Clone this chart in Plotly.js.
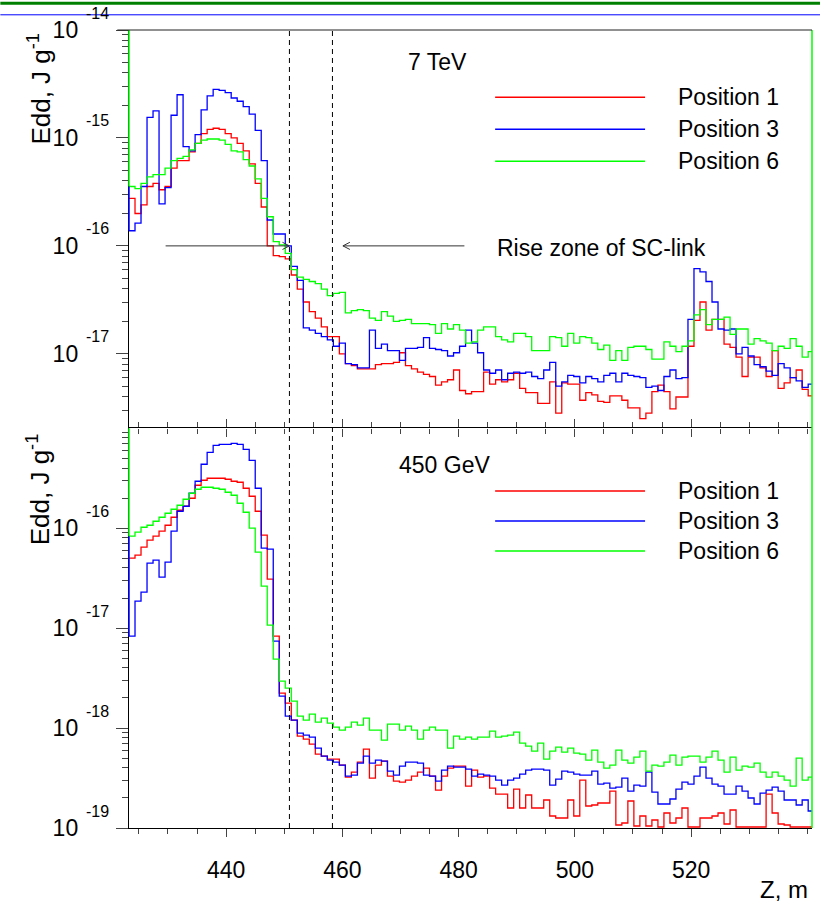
<!DOCTYPE html>
<html><head><meta charset="utf-8">
<script src="https://cdn.plot.ly/plotly-3.0.1.min.js"></script>
<style>html,body{margin:0;padding:0;background:#fff}</style>
</head><body><div id="chart" style="width:820px;height:918px"></div>
<script>
// ---- data: histogram bins along Z (m), values stored as log10(Edd / J g^-1) ----
const binStart = 423.3, binWidth = 1.034;
const top7TeV_pos1 = [
-15.56,-15.70,-15.62,-15.45,-15.42,-15.48,-15.45,-15.28,-15.21,-15.21,
-15.13,-15.05,-14.96,-14.92,-14.91,-14.92,-14.96,-15.00,-15.05,-15.12,
-15.24,-15.42,-15.64,-16.00,-16.09,-16.10,-16.12,-16.27,-16.40,-16.52,
-16.61,-16.67,-16.75,-16.84,-16.84,-17.00,-17.09,-17.11,-17.14,-17.14,
-17.14,-17.10,-17.09,-17.09,-17.08,-16.99,-17.11,-17.14,-17.17,-17.19,
-17.21,-17.29,-17.26,-17.24,-17.15,-17.34,-17.37,-17.35,-17.35,-17.17,
-17.28,-17.24,-17.26,-17.24,-17.18,-17.32,-17.36,-17.36,-17.46,-17.46,
-17.26,-17.55,-17.27,-17.28,-17.28,-17.43,-17.36,-17.38,-17.44,-17.45,
-17.39,-17.39,-17.43,-17.50,-17.50,-17.60,-17.55,-17.35,-17.29,-17.35,
-17.51,-17.40,-17.40,-16.93,-16.69,-16.52,-16.78,-16.68,-16.68,-16.91,
-16.94,-17.03,-17.21,-17.03,-17.03,-17.13,-17.21,-16.97,-17.32,-17.27,
-17.22,-17.15,-17.33,-17.39];
const top7TeV_pos3 = [
-15.86,-15.79,-15.45,-14.81,-14.75,-15.61,-15.46,-14.79,-14.60,-15.08,
-15.12,-14.97,-14.74,-14.61,-14.55,-14.56,-14.58,-14.63,-14.66,-14.71,
-14.78,-14.93,-15.21,-15.76,-15.89,-15.89,-16.00,-16.19,-16.32,-16.76,
-16.78,-16.81,-16.84,-16.87,-16.93,-16.90,-17.09,-17.10,-17.13,-17.13,
-16.78,-16.95,-16.91,-16.97,-16.97,-17.06,-16.95,-16.95,-16.94,-16.85,
-16.95,-16.96,-16.97,-17.02,-16.99,-16.93,-16.78,-16.90,-16.99,-17.15,
-17.18,-17.15,-17.24,-17.18,-17.17,-17.18,-17.17,-17.21,-17.23,-17.15,
-17.08,-17.30,-17.26,-17.20,-17.21,-17.27,-17.21,-17.23,-17.26,-17.20,
-17.18,-17.26,-17.18,-17.20,-17.21,-17.22,-17.31,-17.30,-17.34,-17.21,
-17.15,-17.23,-17.22,-16.68,-16.21,-16.24,-16.33,-16.52,-16.77,-16.78,
-16.77,-17.00,-16.94,-17.02,-17.10,-17.12,-17.16,-17.20,-17.09,-17.13,
-17.22,-17.25,-17.31,-17.28];
const top7TeV_pos6 = [
-15.45,-15.47,-15.42,-15.36,-15.34,-15.34,-15.28,-15.21,-15.19,-15.17,
-15.11,-15.05,-15.02,-15.01,-15.01,-15.02,-15.06,-15.12,-15.13,-15.20,
-15.26,-15.38,-15.56,-15.73,-15.96,-15.99,-16.07,-16.22,-16.29,-16.31,
-16.33,-16.35,-16.40,-16.46,-16.44,-16.43,-16.62,-16.60,-16.59,-16.60,
-16.67,-16.69,-16.61,-16.65,-16.70,-16.69,-16.68,-16.72,-16.72,-16.72,
-16.73,-16.81,-16.72,-16.77,-16.73,-16.78,-16.90,-16.89,-16.78,-16.75,
-16.75,-16.84,-16.87,-16.89,-16.81,-16.81,-16.84,-16.97,-16.97,-16.97,
-16.84,-16.85,-16.93,-16.81,-16.90,-16.84,-16.85,-16.90,-16.96,-16.92,
-17.06,-16.97,-17.06,-16.94,-16.93,-16.93,-16.96,-17.05,-17.05,-16.89,
-16.93,-16.98,-16.93,-16.88,-16.64,-16.59,-16.73,-16.68,-16.68,-16.66,
-16.82,-16.77,-16.77,-16.91,-16.86,-16.88,-16.90,-16.97,-16.93,-16.95,
-16.86,-16.93,-17.03,-16.98];
const bot450GeV_pos1 = [
-16.30,-16.27,-16.19,-16.12,-16.08,-16.03,-15.97,-15.89,-15.82,-15.78,
-15.70,-15.57,-15.52,-15.50,-15.50,-15.50,-15.51,-15.53,-15.54,-15.60,
-15.68,-15.83,-16.07,-16.51,-17.08,-17.65,-17.75,-17.92,-18.08,-18.11,
-18.16,-18.26,-18.28,-18.31,-18.31,-18.37,-18.49,-18.44,-18.34,-18.21,
-18.50,-18.37,-18.33,-18.48,-18.53,-18.54,-18.52,-18.48,-18.44,-18.40,
-18.48,-18.62,-18.48,-18.40,-18.38,-18.38,-18.58,-18.42,-18.49,-18.48,
-18.60,-18.66,-18.66,-18.80,-18.61,-18.80,-18.67,-18.80,-18.80,-18.72,
-18.88,-18.90,-18.90,-18.72,-18.88,-18.52,-18.78,-18.77,-18.75,-18.75,
-18.63,-18.97,-18.95,-18.73,-18.98,-18.88,-18.98,-18.92,-18.99,-18.85,
-18.95,-18.90,-18.80,-18.99,-18.99,-18.90,-18.90,-18.88,-18.85,-18.96,
-18.82,-18.99,-18.99,-18.99,-18.99,-18.99,-18.66,-18.85,-18.96,-18.97,
-18.99,-18.99,-18.99,-18.99];
const bot450GeV_pos3 = [
-17.08,-16.73,-16.64,-16.35,-16.32,-16.49,-16.34,-16.03,-15.83,-15.78,
-15.65,-15.53,-15.36,-15.24,-15.17,-15.16,-15.16,-15.15,-15.16,-15.21,
-15.32,-15.60,-16.20,-16.21,-17.13,-17.68,-17.88,-17.92,-18.05,-18.07,
-18.09,-18.20,-18.28,-18.32,-18.34,-18.37,-18.48,-18.47,-18.35,-18.28,
-18.35,-18.32,-18.33,-18.43,-18.47,-18.38,-18.34,-18.34,-18.35,-18.47,
-18.48,-18.53,-18.42,-18.38,-18.39,-18.39,-18.41,-18.48,-18.46,-18.47,
-18.48,-18.52,-18.57,-18.52,-18.50,-18.46,-18.42,-18.41,-18.41,-18.42,
-18.57,-18.51,-18.43,-18.44,-18.46,-18.47,-18.47,-18.43,-18.56,-18.55,
-18.60,-18.59,-18.50,-18.63,-18.57,-18.58,-18.44,-18.64,-18.76,-18.76,
-18.71,-18.61,-18.54,-18.56,-18.48,-18.39,-18.50,-18.56,-18.58,-18.66,
-18.66,-18.58,-18.63,-18.70,-18.76,-18.65,-18.62,-18.59,-18.63,-18.72,
-18.72,-18.77,-18.72,-18.83];
const bot450GeV_pos6 = [
-16.08,-16.04,-15.99,-15.97,-15.93,-15.89,-15.85,-15.81,-15.77,-15.71,
-15.65,-15.61,-15.59,-15.59,-15.60,-15.61,-15.64,-15.67,-15.75,-15.84,
-16.00,-16.24,-16.58,-16.97,-17.31,-17.53,-17.60,-17.73,-17.88,-17.92,
-17.86,-17.94,-17.90,-17.95,-17.99,-18.02,-17.99,-17.94,-17.97,-17.90,
-18.02,-18.02,-18.12,-17.96,-17.96,-18.02,-17.98,-18.02,-18.11,-18.02,
-17.99,-18.02,-18.02,-18.20,-18.08,-18.11,-18.09,-18.11,-18.09,-18.09,
-18.03,-18.09,-18.08,-18.07,-18.04,-18.15,-18.18,-18.23,-18.15,-18.31,
-18.23,-18.19,-18.24,-18.20,-18.25,-18.26,-18.32,-18.22,-18.34,-18.40,
-18.37,-18.22,-18.32,-18.35,-18.29,-18.23,-18.43,-18.37,-18.38,-18.34,
-18.27,-18.37,-18.29,-18.28,-18.28,-18.34,-18.29,-18.23,-18.32,-18.44,
-18.29,-18.42,-18.38,-18.39,-18.35,-18.44,-18.49,-18.44,-18.48,-18.52,
-18.58,-18.30,-18.52,-18.49];

const seriesNames = ['Position 1', 'Position 3', 'Position 6'];
const panelTitles = ['7 TeV', '450 GeV'];
const xTickVals = [440, 460, 480, 500, 520];
const topDecades = [-14, -15, -16, -17];
const botDecades = [-16, -17, -18, -19];
const zoneLines = [450.9, 458.3];           // dashed markers of the rise zone (Z, m)
const arrowLeft = [429.6, 450.9];           // tail, tip (Z, m)
const arrowRight = [481.0, 460.1];
const arrowLevel = -16;                     // log10 Edd
const annotationText = 'Rise zone of SC-link';

// ---- geometry / style ----
const FONT = 'Liberation Sans, Arial, Helvetica, sans-serif';
const colors = ['#ff0000', '#0000ff', '#00ff00'];
const PL = 128.7, PT = 29.7, PW = 683.3, PH = 798.6;
const split = 400 / PH;
const topRange = [-17.69, -14], botRange = [-19, -15];
const pxX = px => (px - PL) / PW;
const pxY = py => (PT + PH - py) / PH;
// log10 value -> paper y inside each panel
const topP = v => split + (v - topRange[0]) / (topRange[1] - topRange[0]) * (1 - split);
const botP = v => (v - botRange[0]) / (botRange[1] - botRange[0]) * split;

const nb = top7TeV_pos1.length;
const edges = [];
for (let i = 0; i <= nb; i++) edges.push(binStart + i * binWidth);

function stepTrace(logs, xa, ya, color) {
  const y = logs.concat([logs[logs.length - 1]]).map(v => Math.pow(10, v));
  return {x: edges, y: y, type: 'scatter', mode: 'lines', xaxis: xa, yaxis: ya,
    line: {shape: 'hv', color: color, width: 1.3}, hoverinfo: 'skip', showlegend: false};
}
const traces = [
  stepTrace(top7TeV_pos1, 'x2', 'y2', colors[0]),
  stepTrace(top7TeV_pos3, 'x2', 'y2', colors[1]),
  stepTrace(top7TeV_pos6, 'x2', 'y2', colors[2]),
  stepTrace(bot450GeV_pos1, 'x', 'y', colors[0]),
  stepTrace(bot450GeV_pos3, 'x', 'y', colors[1]),
  stepTrace(bot450GeV_pos6, 'x', 'y', colors[2])
];

function minorLog(lo, hi) {
  const v = [];
  for (let d = lo; d < hi; d++) for (let m = 2; m <= 9; m++) v.push(m * Math.pow(10, d));
  return v;
}
const tickColor = '#444';
const xCommon = {
  range: [423.3, 540.8], tickmode: 'array', tickvals: xTickVals,
  ticks: 'outside', ticklen: 8, tickwidth: 1, tickcolor: tickColor,
  linecolor: '#000', linewidth: 1, showgrid: false, zeroline: false,
  minor: {tickmode: 'linear', tick0: 0, dtick: 5, ticks: 'outside', ticklen: 5, tickwidth: 1, tickcolor: tickColor, showgrid: false}
};
function yAxis(domain, range, decades, anchor) {
  return {
    domain: domain, type: 'log', range: range, anchor: anchor,
    tickmode: 'array', tickvals: decades.map(d => Math.pow(10, d)), ticktext: decades.map(() => '10'),
    ticks: 'outside', ticklen: 12, tickwidth: 1, tickcolor: tickColor,
    tickfont: {family: FONT, size: 23, color: '#000'}, ticklabelstandoff: 33,
    showline: true, linecolor: '#000', linewidth: 1.2, showgrid: false, zeroline: false,
    minor: {tickmode: 'array', tickvals: minorLog(Math.floor(range[0]), Math.ceil(range[1])),
      ticks: 'outside', ticklen: 6, tickwidth: 1, tickcolor: tickColor, showgrid: false}
  };
}

const annotations = [];
function addExp(decades, yref) {
  decades.forEach(d => annotations.push({xref: 'paper', x: pxX(84), xanchor: 'left', yref: yref, y: d,
    yanchor: 'middle', yshift: 17, text: String(d), showarrow: false, font: {family: FONT, size: 16, color: '#000'}}));
}
addExp(topDecades, 'y2');
addExp(botDecades, 'y');
const txt = (x, y, text, xanchor, size, extra) => Object.assign({xref: 'paper', yref: 'paper', x: x, y: y,
  xanchor: xanchor, yanchor: 'middle', text: text, showarrow: false, font: {family: FONT, size: size, color: '#000'}}, extra || {});
annotations.push(txt(pxX(39), pxY(88), 'Edd, J g<sup>-1</sup>', 'center', 26, {textangle: -90}));
annotations.push(txt(pxX(39), pxY(489), 'Edd, J g<sup>-1</sup>', 'center', 26, {textangle: -90}));
annotations.push(txt(pxX(810), pxY(890), 'Z, m', 'right', 24));
annotations.push(txt(pxX(437), pxY(62), panelTitles[0], 'center', 23));
annotations.push(txt(pxX(444), pxY(465), panelTitles[1], 'center', 23));
annotations.push(txt(pxX(495), pxY(248), annotationText, 'left', 23));
const legTop = [97, 129, 161], legBot = [491, 521, 551];
const shapes = [];
[legTop, legBot].forEach(rows => rows.forEach((py, i) => {
  annotations.push(txt(pxX(676), pxY(py), seriesNames[i], 'left', 23));
  shapes.push({type: 'line', xref: 'paper', yref: 'paper', x0: pxX(495), x1: pxX(645), y0: pxY(py), y1: pxY(py),
    line: {color: colors[i], width: 1.5}});
}));

// dashed zone markers through both panels
zoneLines.forEach(z => shapes.push({type: 'line', xref: 'x', yref: 'paper', x0: z, x1: z, y0: 0, y1: 1,
  line: {color: '#000', width: 1, dash: '5px,4px'}, layer: 'above'}));
// arrows (top panel)
const ac = '#333', ay = topP(arrowLevel), ah = 0.0045;
shapes.push({type: 'line', xref: 'x', yref: 'paper', x0: arrowLeft[0], x1: arrowLeft[1], y0: ay, y1: ay, line: {color: ac, width: 1}});
shapes.push({type: 'path', xref: 'x', yref: 'paper', path: `M${arrowLeft[1]-1.2},${ay+ah} L${arrowLeft[1]},${ay} L${arrowLeft[1]-1.2},${ay-ah}`, line: {color: ac, width: 1}});
shapes.push({type: 'line', xref: 'x', yref: 'paper', x0: arrowRight[0], x1: arrowRight[1], y0: ay, y1: ay, line: {color: ac, width: 1}});
shapes.push({type: 'path', xref: 'x', yref: 'paper', path: `M${arrowRight[1]+1.2},${ay+ah} L${arrowRight[1]},${ay} L${arrowRight[1]+1.2},${ay-ah}`, line: {color: ac, width: 1}});
// histogram edge verticals at the frame edges
const ev = (y0, y1, c, x) => ({type: 'line', xref: 'paper', yref: 'paper', x0: x, x1: x, y0: y0, y1: y1, line: {color: c, width: 1.5}, layer: 'above'});
shapes.push(ev(1, topP(top7TeV_pos6[0]), colors[2], 0));
shapes.push(ev(topP(top7TeV_pos6[0]), topP(top7TeV_pos3[0]), colors[1], 0));
shapes.push(ev(split, botP(bot450GeV_pos6[0]), colors[2], 0));
shapes.push(ev(botP(bot450GeV_pos6[0]), botP(bot450GeV_pos3[0]), colors[1], 0));
shapes.push(ev(0, 1, colors[2], 1));
// top frame line of the upper panel
shapes.push({type: 'line', xref: 'paper', yref: 'paper', x0: pxX(117), x1: 1, y0: 1, y1: 1, line: {color: '#222', width: 1}});
// page-top rules
shapes.push({type: 'line', xref: 'paper', yref: 'paper', x0: pxX(0), x1: pxX(820), y0: pxY(3), y1: pxY(3), line: {color: '#008000', width: 3}});
shapes.push({type: 'line', xref: 'paper', yref: 'paper', x0: pxX(0), x1: pxX(820), y0: pxY(14.5), y1: pxY(14.5), line: {color: '#0000ff', width: 1}});

const layout = {
  width: 820, height: 918, paper_bgcolor: '#fff', plot_bgcolor: '#fff',
  margin: {l: PL, r: 820 - PL - PW, t: PT, b: 918 - PT - PH, pad: 0},
  showlegend: false, font: {family: FONT, color: '#000'},
  xaxis: Object.assign({}, xCommon, {domain: [0, 1], anchor: 'y', showline: true, mirror: 'ticks',
    tickfont: {family: FONT, size: 23, color: '#000'}, ticklabelstandoff: 13}),
  xaxis2: Object.assign({}, xCommon, {domain: [0, 1], anchor: 'y2', matches: 'x', showticklabels: false, showline: false}),
  yaxis: yAxis([0, split], botRange, botDecades, 'x'),
  yaxis2: yAxis([split, 1], topRange, topDecades, 'x2'),
  annotations: annotations, shapes: shapes
};
Plotly.newPlot('chart', traces, layout, {staticPlot: true, displayModeBar: false});
</script></body></html>
